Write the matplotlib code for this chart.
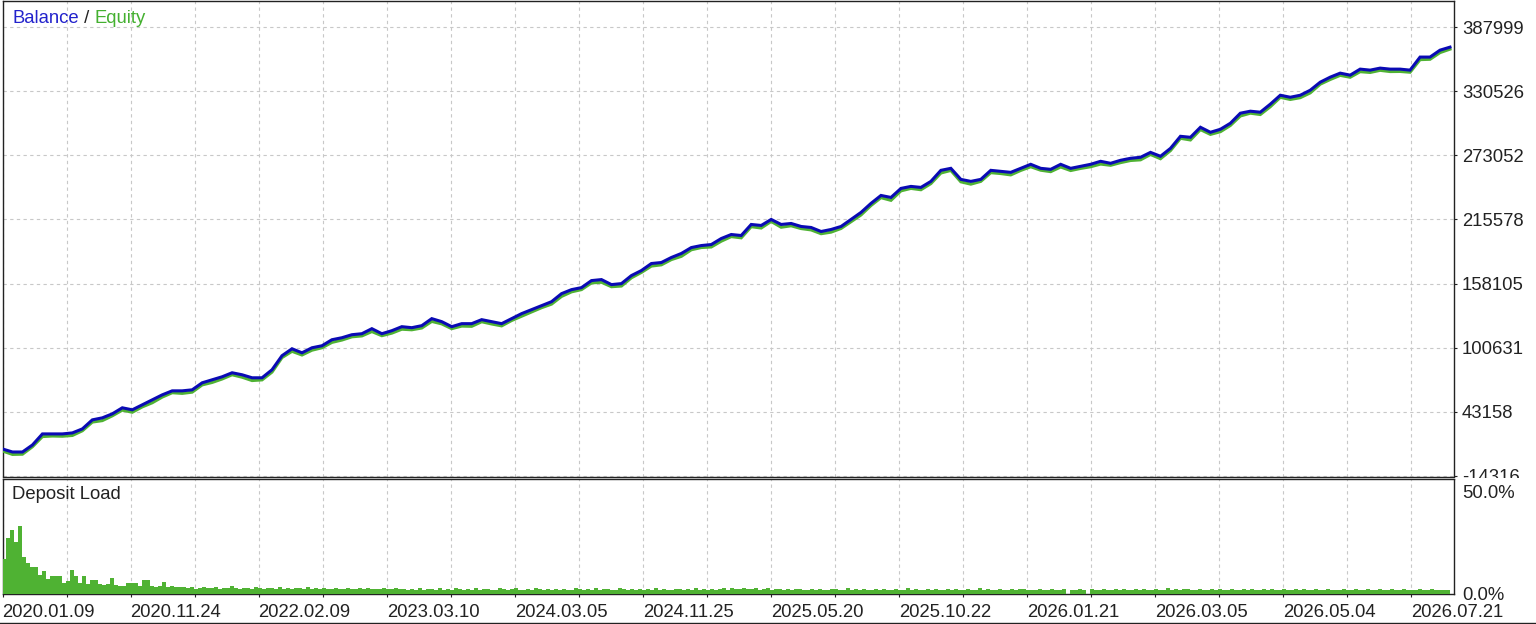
import numpy as np
import matplotlib.pyplot as plt
from matplotlib.lines import Line2D

# balance curve, thousands, sampled evenly along the test
balance_k = [
    9.9, 7.2, 7.2, 13.5, 23.4, 23.4, 23.4, 24.3, 27.9, 36.0,
    37.8, 41.4, 46.8, 45.0, 49.5, 53.9, 58.4, 62.0, 62.0, 62.9,
    69.2, 71.9, 74.6, 78.2, 76.4, 73.7, 73.7, 80.9, 93.5, 99.7,
    96.1, 100.6, 102.4, 107.8, 109.6, 112.3, 113.2, 117.7, 113.2, 115.9,
    119.5, 118.6, 120.4, 126.7, 124.0, 119.5, 122.2, 122.2, 125.8, 124.0,
    122.2, 126.7, 131.2, 134.8, 138.4, 141.9, 149.1, 152.7, 154.5, 160.8,
    161.7, 157.2, 158.1, 165.3, 169.8, 176.1, 177.0, 181.5, 185.1, 190.4,
    192.2, 193.1, 198.5, 202.1, 201.2, 211.1, 210.2, 215.6, 211.1, 212.0,
    209.3, 208.4, 204.8, 206.6, 209.3, 215.6, 221.9, 230.0, 237.1, 235.3,
    243.4, 245.2, 244.3, 249.7, 259.6, 261.4, 251.5, 249.7, 251.5, 259.6,
    258.7, 257.8, 261.4, 265.0, 261.4, 260.5, 265.0, 261.4, 263.2, 265.0,
    267.7, 265.9, 268.6, 270.4, 271.3, 275.7, 272.2, 279.3, 290.1, 289.2,
    298.2, 293.7, 296.4, 301.8, 310.8, 312.6, 311.7, 318.9, 326.9, 325.1,
    326.9, 331.4, 338.6, 343.1, 346.7, 344.9, 350.3, 349.4, 351.2, 350.3,
    350.3, 349.4, 361.1, 361.1, 367.3, 370.0,
]

# floating loss (balance - equity), thousands
float_loss_k = [
    1.8, 2.2, 2.0, 1.6, 2.4, 1.9, 2.1, 2.3, 1.7, 2.0,
    2.5, 1.8, 2.1, 2.2, 1.9, 2.6, 2.0, 1.7, 2.3, 2.1,
    1.9, 2.4, 2.0, 1.8, 2.2, 2.5, 1.9, 2.1, 1.7, 2.3,
    2.0, 2.2, 1.8, 2.4, 2.1, 1.9, 2.0, 2.6, 1.8, 2.2,
    2.3, 1.9, 2.1, 2.5, 2.0, 1.8, 2.2, 2.4, 1.9, 2.1,
    2.0, 1.7, 2.3, 2.1, 1.9, 2.2, 2.5, 2.0, 1.8, 2.1,
    2.4, 1.9, 2.2, 2.0, 1.7, 2.3, 2.1, 1.9, 2.6, 2.0,
    1.8, 2.2, 2.4, 1.9, 2.1, 2.0, 2.3, 1.8, 2.5, 2.1,
    1.9, 2.2, 2.0, 2.4, 1.8, 2.1, 2.3, 1.9, 2.0, 2.6,
    2.2, 1.8, 2.1, 2.0, 2.4, 1.9, 2.2, 2.5, 1.8, 2.1,
    2.0, 2.3, 1.9, 2.2, 1.7, 2.1, 2.4, 2.0, 1.9, 2.2,
    2.5, 1.8, 2.1, 2.0, 2.3, 1.9, 2.2, 2.0, 1.8, 2.4,
    2.1, 1.9, 2.2, 2.0, 2.5, 1.8, 2.1, 2.3, 1.9, 2.0,
    2.2, 2.4, 1.8, 2.1, 2.0, 1.9, 2.3, 2.1, 2.0, 2.2,
    2.1, 1.9, 2.3, 2.0, 2.2, 1.8,
]

# deposit load, percent, evenly binned along the test
deposit_load = [
    17, 27, 31, 25, 33, 18, 15, 13, 13, 9, 11, 7, 8.7, 8.7, 8.7, 5, 6, 11.6, 8.4, 5,
    8.7, 4.5, 6.8, 6.8, 4.5, 4, 4.5, 7.8, 4, 3.5, 3.5, 5.3, 5.3, 5.3, 3.5, 6.8, 6.8, 3.5, 3, 3.5,
    5.7, 3, 3.5, 3, 3,
    3.2, 2.6, 3.0, 2.4, 2.8, 3.4, 2.6, 2.5, 3.0, 2.4,
    2.8, 2.6, 3.6, 2.5, 2.4, 2.9, 2.6, 2.3, 3.1, 2.5,
    2.4, 2.8, 2.5, 2.3, 3.0, 2.4, 2.6, 2.2, 2.7, 2.5,
    2.4, 3.2, 2.3, 2.5, 2.2, 2.8, 2.4, 2.3, 2.6, 2.2,
    2.4, 2.9, 2.3, 2.2, 2.5, 2.3, 2.7, 2.2, 2.4, 2.3,
    2.6, 2.2, 2.4, 2.8, 2.3,
    2.2, 1.9, 2.4, 2.0, 2.6, 1.8, 2.1, 2.3, 1.9, 2.8, 2.0, 2.2, 1.8, 2.5, 2.1, 1.9, 2.3, 2.0, 2.7, 1.9,
    2.1, 2.4, 1.8, 2.0, 2.9, 2.2, 1.9, 2.1, 2.5, 1.8, 2.0, 2.3, 1.9, 2.6, 2.1, 1.8, 2.2, 2.0, 2.4, 1.9,
    2.3, 2.0, 1.8, 2.7, 2.1, 1.9, 2.2, 2.0, 2.5, 1.8, 2.1, 2.3, 1.9, 2.0, 2.8, 2.1, 1.9, 2.2, 2.0, 2.4,
    1.8, 2.1, 2.0, 2.6, 1.9, 2.2, 2.0, 1.8, 2.4, 2.1, 1.9, 2.3, 2.0, 2.7, 1.9, 2.1, 2.0, 2.3, 1.8, 2.2,
    2.5, 2.0, 2.9, 2.4, 2.2, 2.6, 2.1, 2.3, 2.8, 2.0, 2.2, 2.5, 1.9, 2.1, 2.4, 2.0, 2.2, 1.9, 2.3, 2.1,
    1.8, 2.0, 2.2, 1.9, 2.4, 2.0, 1.8, 2.1, 2.3, 1.9, 2.0, 2.6, 1.8, 2.1, 1.9, 2.2, 2.0, 1.8, 2.4, 1.9,
    2.1, 2.0, 1.8, 2.3, 1.9, 2.0, 2.5, 1.8, 2.1, 1.9, 2.0, 2.2, 1.8, 2.4, 1.9, 2.0, 2.1, 1.8, 2.3, 2.0,
    1.9, 2.2, 2.0, 1.8, 2.6, 1.9, 2.1, 2.0, 1.8, 2.3, 2.0, 1.9, 2.2, 1.8, 2.1, 2.4, 1.9, 2.0, 1.8, 2.2,
    2.0, 1.9, 2.3, 1.8, 2.0, 2.1, 0.0, 2.0, 1.9, 2.2, 1.8, 0.0, 2.1, 2.0, 1.9, 2.3, 1.8, 2.0, 2.1, 1.9,
    2.2, 1.8, 2.0, 2.4, 1.9, 2.1, 2.0, 1.8, 2.3, 2.0, 1.9, 2.6, 2.0, 2.2, 1.9, 2.1, 2.4, 2.0, 1.8, 2.2,
    1.9, 2.0, 2.3, 1.8, 2.1, 2.0, 1.9, 2.2, 1.8, 2.0, 2.1, 1.9, 2.4, 1.8, 2.0, 2.2, 1.9, 2.1, 1.8, 2.0,
    2.3, 1.9, 2.0, 2.1, 1.8, 2.2, 2.0, 1.9, 2.1, 1.8, 2.0, 2.3, 1.9, 2.0, 1.8, 2.2, 2.0, 1.9, 2.1, 1.8,
    2.0, 2.2, 1.9, 1.8, 2.1, 2.0, 1.9, 2.2, 1.8, 2.0, 2.1, 1.9, 2.0, 1.8, 2.2, 1.9, 2.0, 2.1, 1.8, 2.0,
    1.9, 2.0,
]

y_ticks = [-14316, 43158, 100631, 158105, 215578, 273052, 330526, 387999]
load_ticks = [0, 50]
date_labels = ['2020.01.09', '2020.11.24', '2022.02.09', '2023.03.10', '2024.03.05',
               '2024.11.25', '2025.05.20', '2025.10.22', '2026.01.21', '2026.03.05',
               '2026.05.04', '2026.07.21']

BLUE = '#0a0ab4'
GREEN = '#4fb233'
GRID = '#c8c8c8'

plt.rcParams['font.family'] = ['Liberation Sans', 'DejaVu Sans']
FS = 13.3

W, H = 1536, 624
fig = plt.figure(figsize=(W / 100, H / 100), dpi=100)


def px_axes(x0, y0, x1, y1):
    return fig.add_axes([x0 / W, 1 - y1 / H, (x1 - x0) / W, (y1 - y0) / H])


ax = px_axes(2.5, 0.5, 1453.5, 476.5)
ax2 = px_axes(2.5, 478.5, 1453.5, 594.0)
ax2.set_zorder(5)

balance = np.array(balance_k) * 1000
equity = (np.array(balance_k) - np.array(float_loss_k)) * 1000
t = np.linspace(0, 1, len(balance))

xmax = 1450.5 / 1447
step = 64 / 1447
xt = np.arange(0, xmax, step)

# top panel: balance / equity
ax.plot(t, equity, color=GREEN, linewidth=2.2, solid_joinstyle='miter', zorder=3)
ax.plot(t, balance, color=BLUE, linewidth=2.2, solid_joinstyle='miter', zorder=4)
ax.set_xlim(0, xmax)
ax.set_ylim(-14765, 411800)
ax.set_yticks(y_ticks)
ax.set_yticklabels([str(v) for v in y_ticks])
ax.yaxis.tick_right()
ax.set_xticks(xt)
ax.tick_params(axis='x', length=0, labelbottom=False)
ax.tick_params(axis='y', direction='out', length=2.5, width=0.8, pad=3.5,
               labelsize=FS, colors='#222222')
ax.grid(True, color=GRID, linestyle=(0, (3, 3)), linewidth=0.8)
for s in ax.spines.values():
    s.set_linewidth(1.0)
    s.set_color('#222222')

t1 = ax.text(10 / 1451, 1 - 18 / 476, 'Balance', color='#2222cc', fontsize=FS,
             transform=ax.transAxes, va='center', ha='left', zorder=6)
t2 = ax.annotate(' / ', xy=(1, 0), xycoords=t1, va='bottom', ha='left',
                 fontsize=FS, color='#222222', zorder=6)
ax.annotate('Equity', xy=(1, 0), xycoords=t2, va='bottom', ha='left',
            fontsize=FS, color='#44b030', zorder=6)

# bottom panel: deposit load
nb = len(deposit_load)
edges = np.arange(nb) / nb
ax2.bar(edges, deposit_load, width=1 / nb, align='edge', color=GREEN,
        linewidth=0, antialiased=False, zorder=3)
ax2.set_xlim(0, xmax)
ax2.set_ylim(-0.2, 56.3)
ax2.set_yticks(load_ticks)
ax2.set_yticklabels([f'{v:.1f}%' for v in load_ticks])
ax2.yaxis.tick_right()
ax2.tick_params(axis='y', length=0, pad=6.2, labelsize=FS, colors='#222222')
ax2.set_xticks(xt)
labels = []
for i in range(len(xt)):
    labels.append(date_labels[i // 2] if i % 2 == 0 else '')
ax2.set_xticklabels(labels, ha='left')
ax2.tick_params(axis='x', direction='out', length=2.5, width=0.8, pad=4.5,
                labelsize=FS, colors='#222222')
ax2.grid(True, axis='x', color=GRID, linestyle=(0, (3, 3)), linewidth=0.8)
for s in ax2.spines.values():
    s.set_linewidth(1.0)
    s.set_color('#222222')
ax2.text(10 / 1451, 1 - 16 / 115.5, 'Deposit Load', fontsize=FS, color='#222222',
         transform=ax2.transAxes, va='center', ha='left')

# white strip hides the lowest price label behind the lower panel
fig.patches.append(plt.Rectangle((1454 / W, 1 - 594 / H), (W - 1454) / W, 116 / H,
                                 transform=fig.transFigure, facecolor='white',
                                 edgecolor='none', zorder=2))
ax.set_zorder(1)

fig.lines.append(Line2D([0, 1], [1 - 622.5 / H] * 2, transform=fig.transFigure,
                        color='#222222', linewidth=1.0))

fig.savefig('out.png', dpi=100)
